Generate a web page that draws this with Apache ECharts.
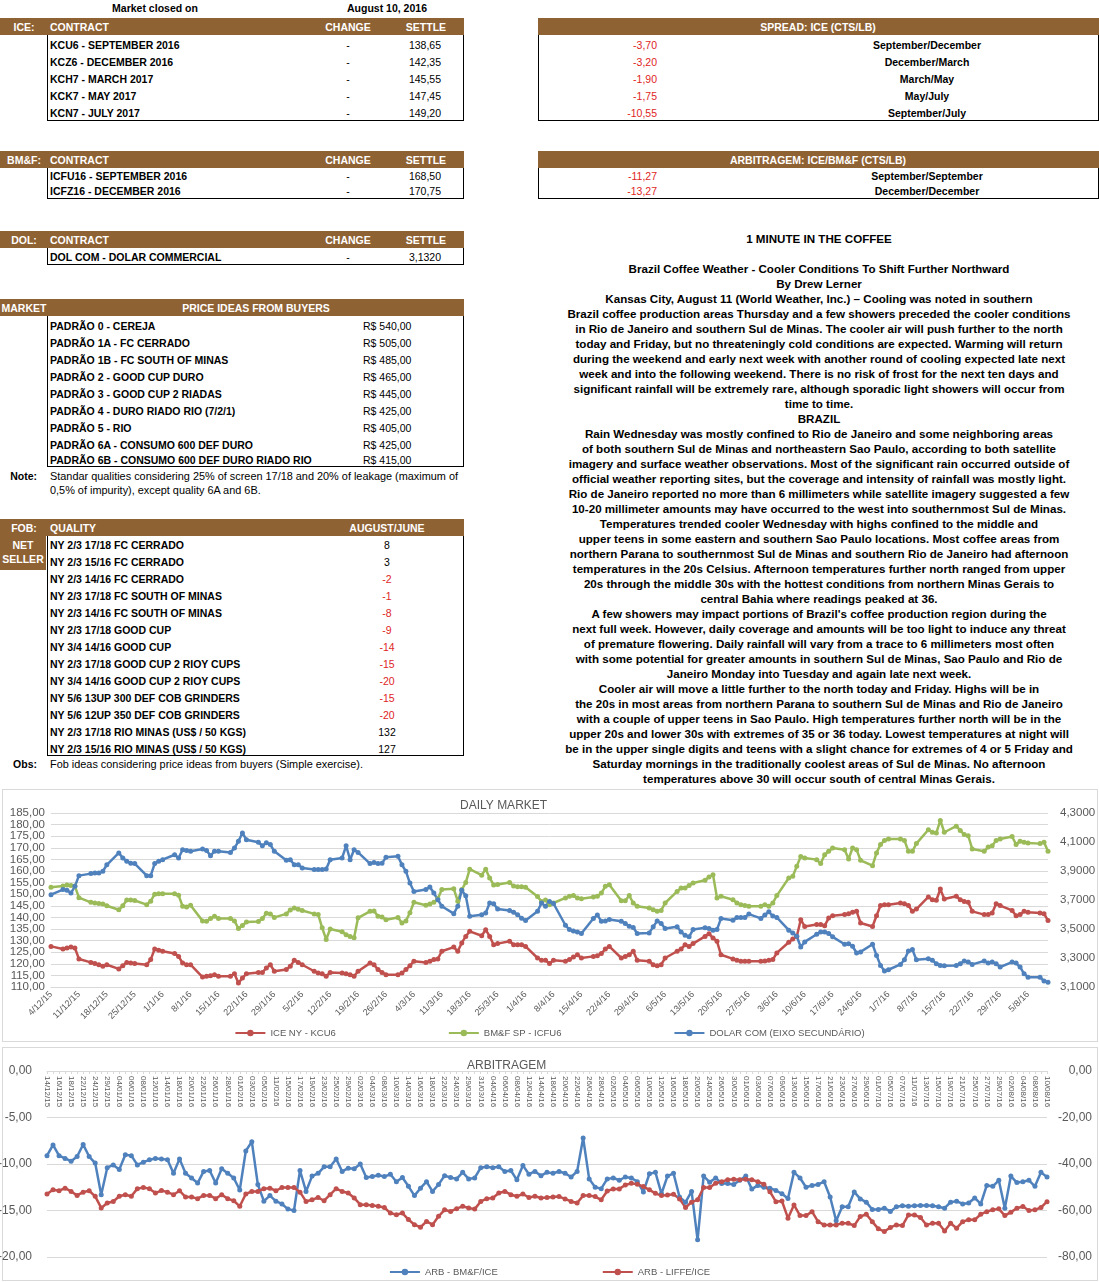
<!DOCTYPE html>
<html>
<head>
<meta charset="utf-8">
<script src="https://cdn.jsdelivr.net/npm/echarts@6/dist/echarts.min.js"></script>
<style>
  body { margin: 0; background: #fff; font-family: "Liberation Sans", Arial, sans-serif; }
  #page { position: relative; width: 1099px; height: 1282px; overflow: hidden; }
  .t { position: absolute; white-space: nowrap; font-size: 10.5px; font-weight: bold; line-height: 14px; color: #000; }
  .n { font-weight: normal; }
  .note { font-size: 10.9px; }
  .w { color: #fff; }
  .r { color: #e01e1e; }
  .bar { position: absolute; background: #8f6233; }
  .box { position: absolute; border: 1px solid #000; border-top: none; box-sizing: border-box; }
  .frame { position: absolute; border: 1px solid #d9d9d9; box-sizing: border-box; }
  #story { position: absolute; left: 519px; top: 230.5px; width: 600px; text-align: center;
           font-size: 11.6px; font-weight: bold; line-height: 15px; }
  #story div { height: 15px; white-space: nowrap; }
  .chart { position: absolute; left: 0; width: 1099px; }
</style>
</head>
<body>
<div id="page">
  <div class="frame" style="left:2px;top:789px;width:1096px;height:253px"></div>
  <div class="frame" style="left:2px;top:1047px;width:1096px;height:234px"></div>
  <div id="daily" class="chart" style="top:790px;height:251px"></div>
  <div id="arb" class="chart" style="top:1047px;height:234px"></div>
  <div id="story"></div>
</div>
<script>
// ---- tables ----
const iceRows = [
  ['KCU6 - SEPTEMBER 2016', '138,65'],
  ['KCZ6 - DECEMBER 2016', '142,35'],
  ['KCH7 - MARCH 2017', '145,55'],
  ['KCK7 - MAY 2017', '147,45'],
  ['KCN7 - JULY 2017', '149,20']
];
const bmfRows = [
  ['ICFU16 - SEPTEMBER 2016', '168,50'],
  ['ICFZ16 - DECEMBER 2016', '170,75']
];
const dolRows = [['DOL COM - DOLAR COMMERCIAL', '3,1320']];
const spreadRows = [
  ['-3,70', 'September/December'],
  ['-3,20', 'December/March'],
  ['-1,90', 'March/May'],
  ['-1,75', 'May/July'],
  ['-10,55', 'September/July']
];
const arbRows = [
  ['-11,27', 'September/September'],
  ['-13,27', 'December/December']
];
const priceRows = [
  ['PADRÃO 0 - CEREJA', 'R$ 540,00'],
  ['PADRÃO 1A - FC CERRADO', 'R$ 505,00'],
  ['PADRÃO 1B - FC SOUTH OF MINAS', 'R$ 485,00'],
  ['PADRÃO 2 - GOOD CUP DURO', 'R$ 465,00'],
  ['PADRÃO 3 - GOOD CUP 2 RIADAS', 'R$ 445,00'],
  ['PADRÃO 4 - DURO RIADO RIO (7/2/1)', 'R$ 425,00'],
  ['PADRÃO 5 - RIO', 'R$ 405,00'],
  ['PADRÃO 6A - CONSUMO 600 DEF DURO', 'R$ 425,00'],
  ['PADRÃO 6B - CONSUMO 600 DEF DURO RIADO RIO', 'R$ 415,00']
];
const fobRows = [
  ['NY 2/3 17/18 FC CERRADO', 8],
  ['NY 2/3 15/16 FC CERRADO', 3],
  ['NY 2/3 14/16 FC CERRADO', -2],
  ['NY 2/3 17/18 FC SOUTH OF MINAS', -1],
  ['NY 2/3 14/16 FC SOUTH OF MINAS', -8],
  ['NY 2/3 17/18 GOOD CUP', -9],
  ['NY 3/4 14/16 GOOD CUP', -14],
  ['NY 2/3 17/18 GOOD CUP 2 RIOY CUPS', -15],
  ['NY 3/4 14/16 GOOD CUP 2 RIOY CUPS', -20],
  ['NY 5/6 13UP 300 DEF COB GRINDERS', -15],
  ['NY 5/6 12UP 350 DEF COB GRINDERS', -20],
  ['NY 2/3 17/18 RIO MINAS (US$ / 50 KGS)', 132],
  ['NY 2/3 15/16 RIO MINAS (US$ / 50 KGS)', 127]
];
const storyLines = [
  '1 MINUTE IN THE COFFEE',
  '',
  'Brazil Coffee Weather - Cooler Conditions To Shift Further Northward',
  'By Drew Lerner',
  'Kansas City, August 11 (World Weather, Inc.) – Cooling was noted in southern',
  'Brazil coffee production areas Thursday and a few showers preceded the cooler conditions',
  'in Rio de Janeiro and southern Sul de Minas. The cooler air will push further to the north',
  'today and Friday, but no threateningly cold conditions are expected. Warming will return',
  'during the weekend and early next week with another round of cooling expected late next',
  'week and into the following weekend. There is no risk of frost for the next ten days and',
  'significant rainfall will be extremely rare, although sporadic light showers will occur from',
  'time to time.',
  'BRAZIL',
  'Rain Wednesday was mostly confined to Rio de Janeiro and some neighboring areas',
  'of both southern Sul de Minas and northeastern Sao Paulo, according to both satellite',
  'imagery and surface weather observations. Most of the significant rain occurred outside of',
  'official weather reporting sites, but the coverage and intensity of rainfall was mostly light.',
  'Rio de Janeiro reported no more than 6 millimeters while satellite imagery suggested a few',
  '10-20 millimeter amounts may have occurred to the west into southernmost Sul de Minas.',
  'Temperatures trended cooler Wednesday with highs confined to the middle and',
  'upper teens in some eastern and southern Sao Paulo locations. Most coffee areas from',
  'northern Parana to southernmost Sul de Minas and southern Rio de Janeiro had afternoon',
  'temperatures in the 20s Celsius. Afternoon temperatures further north ranged from upper',
  '20s through the middle 30s with the hottest conditions from northern Minas Gerais to',
  'central Bahia where readings peaked at 36.',
  'A few showers may impact portions of Brazil\'s coffee production region during the',
  'next full week. However, daily coverage and amounts will be too light to induce any threat',
  'of premature flowering. Daily rainfall will vary from a trace to 6 millimeters most often',
  'with some potential for greater amounts in southern Sul de Minas, Sao Paulo and Rio de',
  'Janeiro Monday into Tuesday and again late next week.',
  'Cooler air will move a little further to the north today and Friday. Highs will be in',
  'the 20s in most areas from northern Parana to southern Sul de Minas and Rio de Janeiro',
  'with a couple of upper teens in Sao Paulo. High temperatures further north will be in the',
  'upper 20s and lower 30s with extremes of 35 or 36 today. Lowest temperatures at night will',
  'be in the upper single digits and teens with a slight chance for extremes of 4 or 5 Friday and',
  'Saturday mornings in the traditionally coolest areas of Sul de Minas. No afternoon',
  'temperatures above 30 will occur south of central Minas Gerais.'
];

// ---- DAILY MARKET (one value per weekday from 4/12/15 to 10/8/16) ----
const iceKCU6 = [
  127.5,
  126.4, 126.8, 127.2, 126.8, 122.1,  120.6, 120.1, 119.6, 118.9, 119.6,
  117.8, 119.2, 120.6, 120.3, 120.1,  119.6, 121.8, 126.4, 125.8, 125.4,
  124.4, 123.2, 120.3, 119.6, 119.6,  114.3, 114.6, 114.9, 115.3, 114.6,
  114.6, 115.7, 111.7, 113.9, 115.7,  116.3, 116.3, 118.2, 119.6, 116.8,
  117.5, 118.9, 121.5, 120.6, 119.6,  116.8, 116.0, 115.7, 114.6, 116.3,
  116.0, 115.7, 115.3, 114.6, 116.8,  120.3, 119.6, 117.5, 116.3, 115.3,
  115.3, 116.0, 117.5, 119.2, 121.1,  120.6, 121.1, 121.8, 122.1, 125.4,
  127.2, 125.4, 129.0, 131.8, 134.0,  132.1, 134.7, 131.8, 128.2, 128.7,
  129.7, 128.2, 128.2, 128.2, 127.5,  122.5, 121.5, 121.5, 120.1, 121.5,
  121.1, 121.8, 122.9, 123.9, 122.5,  123.2, 123.5, 124.4, 126.4, 127.5,
  122.5, 123.2, 123.9, 125.4, 121.5,  121.1, 119.6, 119.2, 119.6, 122.5,
  125.4, 126.4, 128.2, 127.5, 128.7,  131.8, 133.0, 131.1, 129.7, 123.9,
  122.1, 121.5, 121.1, 121.1, 121.1,  121.1, 121.2, 121.5, 121.8, 124.7,
  129.3, 130.7, 131.8, 139.0, 136.1,  136.9, 136.9, 136.4, 139.7, 140.7,
  141.2, 141.6, 142.2, 142.6, 137.6,  136.1, 140.7, 145.1, 145.5, 145.5,
  146.2, 145.9, 145.1, 142.6, 143.6,  148.8, 147.6, 147.4, 152.2, 147.9,
  149.1, 147.6, 146.9, 146.5, 142.6,  141.2, 141.2, 141.9, 145.9, 145.1,
  143.0, 140.7, 141.2, 142.6, 142.2,
  141.9, 141.6, 138.65
];
const bmfICFU6 = [
  153.0,
  153.5, 154.0, 153.8, 153.5, 148.5,  146.5, 146.2, 146.0, 145.8, 145.0,
  143.3, 145.0, 147.5, 147.5, 147.3,  145.5, 147.0, 150.0, 150.2, 150.2,
  150.2, 149.5, 144.8, 144.5, 145.2,  138.5, 138.3, 139.5, 140.5, 139.5,
  139.5, 138.5, 135.2, 136.5, 138.0,  138.2, 139.5, 141.8, 141.5, 140.0,
  141.5, 143.2, 144.0, 143.5, 143.0,  141.5, 141.3, 135.5, 130.5, 135.0,
  133.8, 132.5, 131.8, 131.2, 139.8,  142.6, 142.8, 140.5, 140.2, 139.0,
  140.0, 137.6, 138.5, 142.0, 146.5,  145.2, 145.8, 146.5, 148.0, 152.0,
  152.3, 147.0, 152.0, 155.0, 160.8,  158.2, 160.8, 157.0, 154.0, 154.2,
  155.0, 153.5, 153.2, 153.2, 153.0,  149.0, 146.8, 147.5, 145.5, 146.2,
  148.4, 149.1, 149.4, 148.4, 148.0,  148.8, 149.1, 150.5, 153.4, 154.1,
  147.2, 147.2, 149.4, 146.2, 144.8,  144.1, 143.3, 142.6, 143.0, 146.2,
  151.2, 152.7, 152.7, 153.7, 154.8,  156.0, 157.4, 158.4, 148.4, 149.1,
  147.6, 146.2, 145.5, 145.1, 144.8,  144.8, 145.5, 144.8, 146.2, 149.4,
  157.0, 157.7, 162.0, 166.3, 165.6,  164.9, 163.2, 167.0, 168.5, 169.9,
  169.2, 165.2, 169.9, 169.2, 164.6,  162.3, 167.8, 171.4, 173.2, 173.8,
  173.8, 173.2, 168.5, 168.5, 171.8,  177.8, 176.7, 176.4, 181.8, 176.7,
  179.3, 177.5, 175.7, 175.2, 169.5,  168.5, 170.3, 170.9, 173.2, 173.8,
  174.9, 171.4, 172.8, 172.4, 172.1,
  171.8, 172.4, 168.5
];
const dolarCom = [
  3.737,
  3.772, 3.767, 3.748, 3.794, 3.868,  3.882, 3.886, 3.886, 3.898, 3.943,
  4.025, 3.990, 3.967, 3.954, 3.951,  3.868, 3.868, 3.951, 3.967, 3.978,
  4.012, 3.990, 4.047, 4.041, 4.036,  4.052, 4.042, 4.006, 4.036, 4.036,
  4.028, 4.058, 4.105, 4.162, 4.116,  4.098, 4.074, 4.094, 4.082, 4.036,
  3.974, 3.978, 3.943, 3.943, 3.921,  3.910, 3.910, 3.910, 3.914, 3.978,
  3.990, 4.074, 3.978, 4.047, 4.028,  3.951, 3.959, 3.951, 3.954, 3.994,
  4.001, 3.943, 3.898, 3.817, 3.759,  3.772, 3.790, 3.748, 3.702, 3.657,
  3.606, 3.657, 3.767, 3.730, 3.588,  3.599, 3.610, 3.679, 3.674, 3.638,
  3.628, 3.615, 3.599, 3.575, 3.558,  3.622, 3.679, 3.657, 3.690, 3.676,
  3.526, 3.496, 3.487, 3.480, 3.469,  3.573, 3.596, 3.554, 3.556, 3.566,
  3.554, 3.538, 3.519, 3.510, 3.469,  3.473, 3.515, 3.556, 3.538, 3.503,
  3.515, 3.480, 3.457, 3.446, 3.496,  3.508, 3.503, 3.492, 3.496, 3.573,
  3.561, 3.580, 3.580, 3.580, 3.603,  3.573, 3.596, 3.619, 3.589, 3.580,
  3.492, 3.473, 3.450, 3.376, 3.411,  3.464, 3.480, 3.480, 3.469, 3.446,
  3.395, 3.399, 3.381, 3.335, 3.342,  3.395, 3.318, 3.249, 3.210, 3.219,
  3.256, 3.288, 3.349, 3.358, 3.288,  3.295, 3.284, 3.261, 3.249, 3.247,
  3.249, 3.261, 3.279, 3.272, 3.256,  3.279, 3.265, 3.272, 3.261, 3.238,
  3.272, 3.265, 3.238, 3.191, 3.168,
  3.168, 3.141, 3.132
];
// left-axis tick labels of the daily chart (split in two alternating sets)
const dailyTicksA = [110, 120, 130, 140, 150, 160, 170, 180];
const dailyTicksB = [115, 125, 135, 145, 155, 165, 175, 185];

// ---- ARBITRAGEM (one value per trading day from 14/12/15 to 10/08/16) ----
const arbHolidays = ['25/12/15', '31/12/15', '01/01/16', '08/02/16', '09/02/16', '25/03/16'];
const arbBmfIce = [
  -9.1, -7.95, -9.1, -9.4, -9.7, -9.2, -7.9, -9.2, -9.9, -13.3,
  -10.4, -10.1, -10.6, -9.0, -9.1, -10.1, -9.8, -9.55, -9.4, -9.45,
  -9.55, -11.0, -9.45, -11.0, -11.5, -12.05, -10.8, -10.7, -12.05, -10.5,
  -11.0, -11.5, -12.8, -8.6, -7.6, -12.2, -14.0, -13.4, -14.0, -14.3,
  -14.85, -15.0, -10.7, -12.95, -11.3, -11.0, -10.3, -10.3, -9.45, -10.8,
  -10.45, -10.5, -10.0, -11.45, -11.35, -11.2, -11.35, -11.1, -11.9, -11.45,
  -12.4, -13.4, -12.6, -11.9, -12.95, -12.2, -11.25, -11.45, -11.6, -10.9,
  -11.6, -11.5, -10.4, -10.3, -10.4, -10.3, -10.8, -10.7, -11.7, -10.15,
  -11.1, -10.8, -11.25, -10.9, -11.0,
  -10.8, -11.0, -11.4, -10.8, -7.2, -11.6, -12.5, -12.65, -11.6, -11.5,
  -11.75, -11.4, -11.5, -11.9, -13.0, -11.05, -10.9, -13.2, -11.3, -11.0,
  -13.55, -14.1, -12.95, -18.15, -11.3, -11.95, -11.5, -12.1, -12.1, -12.2,
  -11.75, -11.3, -12.7, -12.3, -12.5, -12.6, -12.85, -13.2, -13.7, -10.9,
  -11.5, -12.5, -12.3, -12.2, -11.9, -13.55, -16.1, -14.6, -14.6, -13.0,
  -13.75, -14.1, -14.9, -14.9, -14.75, -15.1, -14.6, -14.5, -14.55, -14.5,
  -14.45, -14.45, -14.5, -14.6, -14.75, -14.1, -14.0, -14.3, -14.2, -13.65,
  -14.3, -12.3, -12.4, -11.75, -14.75, -11.3, -12.0, -11.9, -11.75, -12.4,
  -10.9, -11.4
];
const arbLiffeIce = [
  -52.9, -51.1, -51.5, -50.4, -51.8, -53.5, -52.1, -51.5, -53.9, -58.9,
  -56.8, -56.1, -53.9, -53.2, -53.9, -50.6, -50.1, -50.6, -52.5, -51.4,
  -52.1, -53.2, -51.5, -54.2, -54.2, -54.9, -53.5, -53.5, -54.9, -53.2,
  -54.9, -55.8, -58.2, -52.9, -51.8, -51.8, -50.6, -50.4, -51.5, -50.1,
  -50.1, -50.1, -52.1, -56.1, -55.4, -54.4, -55.8, -53.2, -50.6, -51.8,
  -52.5, -54.6, -57.5, -57.5, -57.8, -58.2, -58.7, -61.1, -61.8, -61.1,
  -63.9, -66.1, -67.2, -64.7, -66.1, -62.5, -59.7, -60.4, -59.2, -58.2,
  -58.9, -59.4, -56.1, -54.9, -54.6, -52.5, -51.8, -53.2, -53.9, -52.9,
  -54.4, -53.9, -54.6, -54.4, -54.2,
  -54.0, -55.0, -56.1, -56.8, -53.6, -53.6, -54.0, -55.4, -51.6, -50.7,
  -50.7, -49.0, -48.3, -48.7, -49.7, -51.1, -52.6, -53.6, -53.3, -53.0,
  -55.0, -58.7, -56.4, -55.4, -50.1, -50.1, -48.3, -47.6, -46.8, -46.6,
  -46.8, -46.6, -46.8, -47.6, -48.7, -51.9, -56.2, -55.9, -63.3, -57.6,
  -62.2, -62.2, -60.5, -64.8, -66.2, -66.2, -66.2, -65.5, -65.5, -66.5,
  -62.6, -61.6, -64.8, -67.9, -69.0, -67.3, -66.2, -66.5, -61.9, -61.9,
  -63.0, -66.2, -65.5, -65.5, -68.8, -65.5, -67.6, -64.8, -64.0, -64.0,
  -61.6, -60.5, -59.7, -59.3, -62.2, -60.7, -59.0, -58.3, -60.0, -59.7,
  -58.7, -56.2
];

// ---- helpers ----
const page = document.getElementById('page');
function put(x, cy, s, cls, align) {
  const el = document.createElement('div');
  el.className = 't ' + (cls || '');
  el.textContent = s;
  el.style.top = (cy - 7) + 'px';
  el.style.left = x + 'px';
  if (align === 'r') el.style.transform = 'translateX(-100%)';
  if (align === 'c') el.style.transform = 'translateX(-50%)';
  page.appendChild(el);
}
function rect(cls, x, y, w, h) {
  const el = document.createElement('div');
  el.className = cls;
  el.style.left = x + 'px'; el.style.top = y + 'px';
  el.style.width = w + 'px'; el.style.height = h + 'px';
  page.appendChild(el);
}
const pad = n => String(n).padStart(2, '0');

put(155, 8, 'Market closed on', '', 'c');
put(387, 8, 'August 10, 2016', '', 'c');

// contract tables (left column)
function contractTable(tag, top, rows, rowY, bottom) {
  rect('bar', 0, top, 464, 17);
  put(24, top + 8.5, tag, 'w', 'c');
  put(50, top + 8.5, 'CONTRACT', 'w');
  put(348, top + 8.5, 'CHANGE', 'w', 'c');
  put(426, top + 8.5, 'SETTLE', 'w', 'c');
  rect('box', 47, top + 17, 417, bottom - top - 17);
  rows.forEach((r, i) => {
    put(50, rowY[i], r[0]);
    put(348, rowY[i], '-', 'n', 'c');
    put(441, rowY[i], r[1], 'n', 'r');
  });
}
contractTable('ICE:', 18, iceRows, [45, 62, 79, 96, 113], 121);
contractTable('BM&F:', 151, bmfRows, [176, 191], 199);
contractTable('DOL:', 231, dolRows, [257], 265);

// spread tables (right column)
function spreadTable(title, top, rows, rowY, bottom) {
  rect('bar', 538, top, 561, 17);
  put(818, top + 8.5, title, 'w', 'c');
  rect('box', 538, top + 17, 561, bottom - top - 17);
  rows.forEach((r, i) => {
    put(657, rowY[i], r[0], 'n r', 'r');
    put(927, rowY[i], r[1], '', 'c');
  });
}
spreadTable('SPREAD: ICE (CTS/LB)', 18, spreadRows, [45, 62, 79, 96, 113], 121);
spreadTable('ARBITRAGEM: ICE/BM&F (CTS/LB)', 151, arbRows, [176, 191], 199);

// price ideas
rect('bar', 0, 299, 464, 17);
put(24, 307.5, 'MARKET', 'w', 'c');
put(256, 307.5, 'PRICE IDEAS FROM BUYERS', 'w', 'c');
rect('box', 47, 316, 417, 151);
const priceY = [326, 343, 360, 377, 394, 411, 428, 445, 459.5];
priceRows.forEach((r, i) => { put(50, priceY[i], r[0]); put(363, priceY[i], r[1], 'n'); });
put(37, 476, 'Note:', '', 'r');
put(50, 476, 'Standar qualities considering 25% of screen 17/18 and 20% of leakage (maximum of', 'n note');
put(50, 490, '0,5% of impurity), except quality 6A and 6B.', 'n note');

// FOB
rect('bar', 0, 519, 464, 17);
put(24, 527.5, 'FOB:', 'w', 'c');
put(50, 527.5, 'QUALITY', 'w');
put(387, 527.5, 'AUGUST/JUNE', 'w', 'c');
rect('bar', 0, 536, 46, 34);
put(23, 545, 'NET', 'w', 'c');
put(23, 559, 'SELLER', 'w', 'c');
rect('box', 47, 536, 417, 220);
fobRows.forEach((r, i) => {
  const y = 545 + i * 17;
  put(50, y, r[0]);
  put(387, y, String(r[1]), r[1] < 0 ? 'n r' : 'n', 'c');
});
put(37, 764, 'Obs:', '', 'r');
put(50, 764, 'Fob ideas considering price ideas from buyers (Simple exercise).', 'n note');

// story
const story = document.getElementById('story');
storyLines.forEach(s => { const d = document.createElement('div'); d.textContent = s; story.appendChild(d); });

// ---- dates ----
function tradingDays(from, to, skip) {
  const out = [];
  for (const t = new Date(from); t <= to; t.setDate(t.getDate() + 1)) {
    const wd = t.getDay();
    if (wd === 0 || wd === 6) continue;
    const lab = pad(t.getDate()) + '/' + pad(t.getMonth() + 1) + '/' + String(t.getFullYear()).slice(2);
    if (skip.includes(lab)) continue;
    out.push({ t: new Date(t), lab });
  }
  return out;
}
const START = new Date(2015, 11, 4);
const dailyDays = tradingDays(START, new Date(2016, 7, 10), [])
  .map(o => Math.round((o.t - START) / 86400000));
const arbDates = tradingDays(new Date(2015, 11, 14), new Date(2016, 7, 10), arbHolidays).map(o => o.lab);

const dayLabel = d => { const t = new Date(2015, 11, 4 + d); return t.getDate() + '/' + (t.getMonth() + 1) + '/' + String(t.getFullYear()).slice(2); };
const comma = n => v => v.toFixed(n).replace('.', ',');
const GREY = '#595959';
const GRID = '#d9d9d9';
const RED = '#C0504D', GREEN = '#9BBB59', BLUE = '#4F81BD';

function lineSeries(name, color, data, yAxisIndex) {
  return {
    name, type: 'line', yAxisIndex, data,
    symbol: 'circle', symbolSize: 5, showAllSymbol: true,
    lineStyle: { width: 2.5, color }, itemStyle: { color },
    emphasis: { disabled: true }
  };
}
const legendBase = { itemWidth: 30, itemHeight: 8, textStyle: { fontSize: 9.5, color: GREY } };
const yLabel = (size, margin, digits, extra) => Object.assign({
  fontSize: size, color: GREY, margin, showMinLabel: true, showMaxLabel: true, formatter: comma(digits)
}, extra || {});
const labelOnlyAxis = (min, max, ticks) => ({
  type: 'value', position: 'left', min, max,
  axisLine: { show: false }, axisTick: { show: false }, splitLine: { show: false },
  axisLabel: yLabel(11.5, 6, 2, { customValues: ticks })
});

// ---- daily chart ----
const daily = echarts.init(document.getElementById('daily'));
daily.setOption({
  animation: false,
  title: { text: 'DAILY MARKET', left: 455, top: 5, textStyle: { fontSize: 12, fontWeight: 'normal', color: GREY } },
  legend: Object.assign({ left: 'center', top: 233, itemGap: 112 }, legendBase),
  grid: { left: 51, right: 51, top: 23, bottom: 54, outerBoundsMode: 'none' },
  xAxis: {
    type: 'value', min: 0, max: 250, interval: 7,
    axisLine: { lineStyle: { color: GRID } }, axisTick: { show: false }, splitLine: { show: false },
    axisLabel: { rotate: 45, fontSize: 9, color: GREY, margin: 6, showMaxLabel: false, formatter: dayLabel }
  },
  yAxis: [
    { type: 'value', position: 'left', min: 110, max: 185, interval: 5,
      axisLine: { show: false }, axisTick: { show: false },
      splitLine: { lineStyle: { color: GRID } },
      axisLabel: { show: false } },
    { type: 'value', position: 'right', min: 3.1, max: 4.3, interval: 0.2,
      axisLine: { show: false }, axisTick: { show: false }, splitLine: { show: false },
      axisLabel: yLabel(11.5, 12, 4) },
    labelOnlyAxis(110, 185, dailyTicksA),
    labelOnlyAxis(110, 185, dailyTicksB)
  ],
  series: [
    lineSeries('ICE NY - KCU6', RED, dailyDays.map((d, i) => [d, iceKCU6[i]]), 0),
    lineSeries('BM&F SP - ICFU6', GREEN, dailyDays.map((d, i) => [d, bmfICFU6[i]]), 0),
    lineSeries('DOLAR COM (EIXO SECUNDÁRIO)', BLUE, dailyDays.map((d, i) => [d, dolarCom[i]]), 1)
  ]
});

// ---- arbitragem chart ----
const arb = echarts.init(document.getElementById('arb'));
arb.setOption({
  animation: false,
  title: { text: 'ARBITRAGEM', left: 462, top: 8, textStyle: { fontSize: 12, fontWeight: 'normal', color: GREY } },
  legend: Object.assign({ left: 'center', top: 215, itemGap: 104 }, legendBase),
  grid: { left: 47, right: 52, top: 24, bottom: 24, outerBoundsMode: 'none' },
  xAxis: {
    type: 'category', data: arbDates, boundaryGap: false, position: 'top',
    axisLine: { onZero: false, lineStyle: { color: GRID } },
    axisTick: { show: true, inside: true, interval: 0, length: 3, lineStyle: { color: GRID } },
    axisLabel: { inside: true, interval: 1, rotate: 90, fontSize: 8, color: GREY, margin: 5 }
  },
  yAxis: [
    { type: 'value', min: -20, max: 0, interval: 5,
      axisLine: { show: false }, axisTick: { show: false },
      splitLine: { lineStyle: { color: GRID } },
      axisLabel: yLabel(12, 15, 2) },
    { type: 'value', min: -80, max: 0, interval: 20,
      axisLine: { show: false }, axisTick: { show: false }, splitLine: { show: false },
      axisLabel: yLabel(12, 45, 2, { align: 'right' }) }
  ],
  series: [
    lineSeries('ARB - BM&F/ICE', BLUE, arbBmfIce, 0),
    lineSeries('ARB - LIFFE/ICE', RED, arbLiffeIce, 1)
  ]
});
</script>
</body>
</html>
